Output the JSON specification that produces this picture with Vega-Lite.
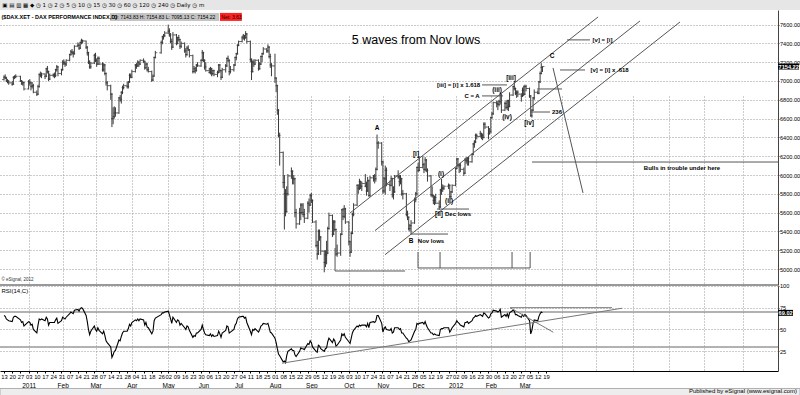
{
"$schema":"https://vega.github.io/schema/vega-lite/v6.json",
"width":778,"height":361,
"autosize":{"type":"none"},
"padding":{"top":10,"bottom":24,"left":0,"right":22},
"background":"white",
"config":{"view":{"stroke":null},"font":"Liberation Sans"},
"datasets":{
"bars":[
{"d":"2010-12-13","o":7015,"h":7060,"l":7005,"c":7040,"r":66},
{"d":"2010-12-14","o":7040,"h":7070,"l":7020,"c":7030,"r":65},
{"d":"2010-12-15","o":7030,"h":7045,"l":6990,"c":7000,"r":62},
{"d":"2010-12-16","o":7000,"h":7020,"l":6975,"c":6990,"r":61},
{"d":"2010-12-17","o":6990,"h":7010,"l":6960,"c":6980,"r":60},
{"d":"2010-12-20","o":6980,"h":7000,"l":6950,"c":6965,"r":59},
{"d":"2010-12-21","o":6965,"h":7050,"l":6960,"c":7040,"r":64},
{"d":"2010-12-22","o":7040,"h":7060,"l":7020,"c":7045,"r":65},
{"d":"2010-12-23","o":7045,"h":7070,"l":7030,"c":7050,"r":65},
{"d":"2010-12-27","o":7050,"h":7055,"l":6990,"c":7000,"r":61},
{"d":"2010-12-28","o":7000,"h":7010,"l":6960,"c":6970,"r":58},
{"d":"2010-12-29","o":6970,"h":7000,"l":6950,"c":6985,"r":59},
{"d":"2010-12-30","o":6985,"h":6990,"l":6900,"c":6915,"r":54},
{"d":"2011-01-03","o":6915,"h":7010,"l":6910,"c":6990,"r":59},
{"d":"2011-01-04","o":6990,"h":7020,"l":6950,"c":6980,"r":58},
{"d":"2011-01-05","o":6980,"h":6990,"l":6900,"c":6940,"r":55},
{"d":"2011-01-06","o":6940,"h":6990,"l":6920,"c":6950,"r":56},
{"d":"2011-01-07","o":6950,"h":6970,"l":6870,"c":6880,"r":50},
{"d":"2011-01-10","o":6880,"h":6900,"l":6840,"c":6860,"r":46},
{"d":"2011-01-11","o":6860,"h":6960,"l":6850,"c":6940,"r":55},
{"d":"2011-01-12","o":6940,"h":7080,"l":6930,"c":7070,"r":62},
{"d":"2011-01-13","o":7070,"h":7100,"l":7040,"c":7060,"r":61},
{"d":"2011-01-14","o":7060,"h":7090,"l":7030,"c":7075,"r":62},
{"d":"2011-01-17","o":7075,"h":7080,"l":7020,"c":7050,"r":60},
{"d":"2011-01-18","o":7050,"h":7140,"l":7040,"c":7130,"r":64},
{"d":"2011-01-19","o":7130,"h":7160,"l":7080,"c":7100,"r":62},
{"d":"2011-01-20","o":7100,"h":7110,"l":7000,"c":7020,"r":55},
{"d":"2011-01-21","o":7020,"h":7080,"l":7010,"c":7060,"r":58},
{"d":"2011-01-24","o":7060,"h":7080,"l":7040,"c":7065,"r":58},
{"d":"2011-01-25","o":7065,"h":7090,"l":7030,"c":7060,"r":58},
{"d":"2011-01-26","o":7060,"h":7130,"l":7040,"c":7120,"r":61},
{"d":"2011-01-27","o":7120,"h":7170,"l":7100,"c":7150,"r":63},
{"d":"2011-01-28","o":7150,"h":7160,"l":7050,"c":7080,"r":57},
{"d":"2011-01-31","o":7080,"h":7130,"l":7060,"c":7120,"r":60},
{"d":"2011-02-01","o":7120,"h":7220,"l":7110,"c":7200,"r":64},
{"d":"2011-02-02","o":7200,"h":7230,"l":7170,"c":7190,"r":63},
{"d":"2011-02-03","o":7190,"h":7210,"l":7150,"c":7180,"r":62},
{"d":"2011-02-04","o":7180,"h":7230,"l":7160,"c":7220,"r":64},
{"d":"2011-02-07","o":7220,"h":7290,"l":7210,"c":7280,"r":68},
{"d":"2011-02-08","o":7280,"h":7330,"l":7270,"c":7310,"r":70},
{"d":"2011-02-09","o":7310,"h":7340,"l":7280,"c":7300,"r":69},
{"d":"2011-02-10","o":7300,"h":7320,"l":7250,"c":7290,"r":68},
{"d":"2011-02-11","o":7290,"h":7380,"l":7280,"c":7370,"r":72},
{"d":"2011-02-14","o":7370,"h":7410,"l":7360,"c":7380,"r":73},
{"d":"2011-02-15","o":7380,"h":7400,"l":7330,"c":7350,"r":71},
{"d":"2011-02-16","o":7350,"h":7420,"l":7340,"c":7410,"r":74},
{"d":"2011-02-17","o":7410,"h":7450,"l":7390,"c":7430,"r":75},
{"d":"2011-02-18","o":7430,"h":7440,"l":7400,"c":7425,"r":74},
{"d":"2011-02-21","o":7425,"h":7430,"l":7340,"c":7360,"r":66},
{"d":"2011-02-22","o":7360,"h":7370,"l":7270,"c":7300,"r":59},
{"d":"2011-02-23","o":7300,"h":7310,"l":7180,"c":7200,"r":50},
{"d":"2011-02-24","o":7200,"h":7220,"l":7130,"c":7150,"r":44},
{"d":"2011-02-25","o":7150,"h":7200,"l":7130,"c":7190,"r":48},
{"d":"2011-02-28","o":7190,"h":7290,"l":7180,"c":7270,"r":54},
{"d":"2011-03-01","o":7270,"h":7300,"l":7200,"c":7220,"r":50},
{"d":"2011-03-02","o":7220,"h":7240,"l":7150,"c":7180,"r":48},
{"d":"2011-03-03","o":7180,"h":7260,"l":7170,"c":7240,"r":52},
{"d":"2011-03-04","o":7240,"h":7260,"l":7170,"c":7180,"r":49},
{"d":"2011-03-07","o":7180,"h":7200,"l":7100,"c":7120,"r":45},
{"d":"2011-03-08","o":7120,"h":7190,"l":7100,"c":7170,"r":48},
{"d":"2011-03-09","o":7170,"h":7180,"l":7060,"c":7080,"r":43},
{"d":"2011-03-10","o":7080,"h":7090,"l":6950,"c":6980,"r":37},
{"d":"2011-03-11","o":6980,"h":7000,"l":6900,"c":6950,"r":35},
{"d":"2011-03-14","o":6950,"h":6960,"l":6800,"c":6860,"r":30},
{"d":"2011-03-15","o":6860,"h":6870,"l":6510,"c":6600,"r":18},
{"d":"2011-03-16","o":6600,"h":6720,"l":6540,"c":6620,"r":21},
{"d":"2011-03-17","o":6620,"h":6730,"l":6600,"c":6660,"r":25},
{"d":"2011-03-18","o":6660,"h":6720,"l":6620,"c":6660,"r":26},
{"d":"2011-03-21","o":6660,"h":6830,"l":6650,"c":6820,"r":38},
{"d":"2011-03-22","o":6820,"h":6850,"l":6780,"c":6800,"r":37},
{"d":"2011-03-23","o":6800,"h":6890,"l":6760,"c":6880,"r":42},
{"d":"2011-03-24","o":6880,"h":6950,"l":6860,"c":6930,"r":46},
{"d":"2011-03-25","o":6930,"h":6970,"l":6910,"c":6950,"r":48},
{"d":"2011-03-28","o":6950,"h":6990,"l":6920,"c":6940,"r":48},
{"d":"2011-03-29","o":6940,"h":7000,"l":6920,"c":6990,"r":51},
{"d":"2011-03-30","o":6990,"h":7080,"l":6980,"c":7060,"r":56},
{"d":"2011-03-31","o":7060,"h":7080,"l":7030,"c":7040,"r":54},
{"d":"2011-04-01","o":7040,"h":7120,"l":7030,"c":7100,"r":58},
{"d":"2011-04-04","o":7100,"h":7180,"l":7090,"c":7170,"r":61},
{"d":"2011-04-05","o":7170,"h":7190,"l":7130,"c":7160,"r":60},
{"d":"2011-04-06","o":7160,"h":7220,"l":7150,"c":7200,"r":62},
{"d":"2011-04-07","o":7200,"h":7210,"l":7150,"c":7180,"r":60},
{"d":"2011-04-08","o":7180,"h":7230,"l":7170,"c":7220,"r":62},
{"d":"2011-04-11","o":7220,"h":7240,"l":7190,"c":7210,"r":61},
{"d":"2011-04-12","o":7210,"h":7215,"l":7120,"c":7140,"r":55},
{"d":"2011-04-13","o":7140,"h":7200,"l":7130,"c":7180,"r":58},
{"d":"2011-04-14","o":7180,"h":7190,"l":7100,"c":7120,"r":53},
{"d":"2011-04-15","o":7120,"h":7150,"l":7090,"c":7100,"r":52},
{"d":"2011-04-18","o":7100,"h":7110,"l":6990,"c":7010,"r":45},
{"d":"2011-04-19","o":7010,"h":7070,"l":7000,"c":7050,"r":48},
{"d":"2011-04-20","o":7050,"h":7260,"l":7050,"c":7250,"r":60},
{"d":"2011-04-21","o":7250,"h":7320,"l":7240,"c":7300,"r":63},
{"d":"2011-04-26","o":7300,"h":7430,"l":7290,"c":7410,"r":67},
{"d":"2011-04-27","o":7410,"h":7480,"l":7390,"c":7470,"r":69},
{"d":"2011-04-28","o":7470,"h":7500,"l":7440,"c":7480,"r":69},
{"d":"2011-04-29","o":7480,"h":7530,"l":7470,"c":7510,"r":70},
{"d":"2011-05-02","o":7510,"h":7600,"l":7500,"c":7530,"r":71},
{"d":"2011-05-03","o":7530,"h":7560,"l":7470,"c":7490,"r":67},
{"d":"2011-05-04","o":7490,"h":7510,"l":7400,"c":7420,"r":62},
{"d":"2011-05-05","o":7420,"h":7450,"l":7330,"c":7360,"r":57},
{"d":"2011-05-06","o":7360,"h":7520,"l":7350,"c":7490,"r":64},
{"d":"2011-05-09","o":7490,"h":7500,"l":7380,"c":7400,"r":58},
{"d":"2011-05-10","o":7400,"h":7470,"l":7390,"c":7460,"r":61},
{"d":"2011-05-11","o":7460,"h":7490,"l":7420,"c":7440,"r":60},
{"d":"2011-05-12","o":7440,"h":7450,"l":7340,"c":7370,"r":55},
{"d":"2011-05-13","o":7370,"h":7420,"l":7350,"c":7400,"r":57},
{"d":"2011-05-16","o":7400,"h":7410,"l":7300,"c":7320,"r":52},
{"d":"2011-05-17","o":7320,"h":7350,"l":7250,"c":7280,"r":50},
{"d":"2011-05-18","o":7280,"h":7370,"l":7270,"c":7350,"r":54},
{"d":"2011-05-19","o":7350,"h":7380,"l":7320,"c":7330,"r":53},
{"d":"2011-05-20","o":7330,"h":7340,"l":7250,"c":7270,"r":49},
{"d":"2011-05-23","o":7270,"h":7280,"l":7080,"c":7100,"r":41},
{"d":"2011-05-24","o":7100,"h":7160,"l":7090,"c":7130,"r":43},
{"d":"2011-05-25","o":7130,"h":7150,"l":7080,"c":7110,"r":42},
{"d":"2011-05-26","o":7110,"h":7180,"l":7100,"c":7170,"r":46},
{"d":"2011-05-27","o":7170,"h":7200,"l":7150,"c":7160,"r":46},
{"d":"2011-05-30","o":7160,"h":7230,"l":7150,"c":7220,"r":50},
{"d":"2011-05-31","o":7220,"h":7330,"l":7210,"c":7300,"r":55},
{"d":"2011-06-01","o":7300,"h":7310,"l":7200,"c":7220,"r":50},
{"d":"2011-06-02","o":7220,"h":7230,"l":7120,"c":7150,"r":46},
{"d":"2011-06-03","o":7150,"h":7200,"l":7100,"c":7110,"r":44},
{"d":"2011-06-06","o":7110,"h":7140,"l":7080,"c":7090,"r":43},
{"d":"2011-06-07","o":7090,"h":7150,"l":7070,"c":7130,"r":45},
{"d":"2011-06-08","o":7130,"h":7140,"l":7050,"c":7080,"r":42},
{"d":"2011-06-09","o":7080,"h":7120,"l":7060,"c":7110,"r":44},
{"d":"2011-06-10","o":7110,"h":7120,"l":7050,"c":7070,"r":42},
{"d":"2011-06-13","o":7070,"h":7110,"l":7040,"c":7090,"r":43},
{"d":"2011-06-14","o":7090,"h":7180,"l":7080,"c":7170,"r":48},
{"d":"2011-06-15","o":7170,"h":7180,"l":7090,"c":7110,"r":45},
{"d":"2011-06-16","o":7110,"h":7120,"l":7010,"c":7040,"r":41},
{"d":"2011-06-17","o":7040,"h":7140,"l":7030,"c":7120,"r":46},
{"d":"2011-06-20","o":7120,"h":7180,"l":7090,"c":7160,"r":49},
{"d":"2011-06-21","o":7160,"h":7250,"l":7150,"c":7240,"r":54},
{"d":"2011-06-22","o":7240,"h":7270,"l":7200,"c":7220,"r":53},
{"d":"2011-06-23","o":7220,"h":7230,"l":7060,"c":7100,"r":46},
{"d":"2011-06-24","o":7100,"h":7160,"l":7080,"c":7120,"r":47},
{"d":"2011-06-27","o":7120,"h":7180,"l":7100,"c":7170,"r":50},
{"d":"2011-06-28","o":7170,"h":7260,"l":7160,"c":7250,"r":55},
{"d":"2011-06-29","o":7250,"h":7300,"l":7220,"c":7290,"r":57},
{"d":"2011-06-30","o":7290,"h":7390,"l":7280,"c":7380,"r":62},
{"d":"2011-07-01","o":7380,"h":7430,"l":7370,"c":7420,"r":64},
{"d":"2011-07-04","o":7420,"h":7480,"l":7410,"c":7460,"r":65},
{"d":"2011-07-05","o":7460,"h":7500,"l":7440,"c":7480,"r":65},
{"d":"2011-07-06","o":7480,"h":7490,"l":7430,"c":7460,"r":63},
{"d":"2011-07-07","o":7460,"h":7530,"l":7450,"c":7500,"r":64},
{"d":"2011-07-08","o":7500,"h":7510,"l":7400,"c":7420,"r":58},
{"d":"2011-07-11","o":7420,"h":7430,"l":7200,"c":7230,"r":48},
{"d":"2011-07-12","o":7230,"h":7240,"l":7010,"c":7100,"r":44},
{"d":"2011-07-13","o":7100,"h":7220,"l":7090,"c":7200,"r":50},
{"d":"2011-07-14","o":7200,"h":7230,"l":7150,"c":7180,"r":49},
{"d":"2011-07-15","o":7180,"h":7230,"l":7170,"c":7220,"r":51},
{"d":"2011-07-18","o":7220,"h":7230,"l":7110,"c":7130,"r":47},
{"d":"2011-07-19","o":7130,"h":7200,"l":7120,"c":7180,"r":50},
{"d":"2011-07-20","o":7180,"h":7270,"l":7170,"c":7260,"r":54},
{"d":"2011-07-21","o":7260,"h":7300,"l":7200,"c":7290,"r":55},
{"d":"2011-07-22","o":7290,"h":7360,"l":7280,"c":7340,"r":57},
{"d":"2011-07-25","o":7340,"h":7350,"l":7300,"c":7320,"r":56},
{"d":"2011-07-26","o":7320,"h":7390,"l":7300,"c":7360,"r":57},
{"d":"2011-07-27","o":7360,"h":7370,"l":7240,"c":7260,"r":52},
{"d":"2011-07-28","o":7260,"h":7290,"l":7140,"c":7170,"r":47},
{"d":"2011-07-29","o":7170,"h":7190,"l":7050,"c":7160,"r":46},
{"d":"2011-08-01","o":7160,"h":7290,"l":6980,"c":7030,"r":40},
{"d":"2011-08-02","o":7030,"h":7040,"l":6880,"c":6950,"r":35},
{"d":"2011-08-03","o":6950,"h":6960,"l":6640,"c":6690,"r":28},
{"d":"2011-08-04","o":6690,"h":6700,"l":6400,"c":6420,"r":22},
{"d":"2011-08-05","o":6420,"h":6450,"l":6100,"c":6240,"r":20},
{"d":"2011-08-08","o":6240,"h":6250,"l":5860,"c":5920,"r":13},
{"d":"2011-08-09","o":5920,"h":6000,"l":5420,"c":5800,"r":14},
{"d":"2011-08-10","o":5800,"h":5850,"l":5560,"c":5610,"r":12},
{"d":"2011-08-11","o":5610,"h":5880,"l":5600,"c":5800,"r":20},
{"d":"2011-08-12","o":5800,"h":6010,"l":5780,"c":5990,"r":25},
{"d":"2011-08-15","o":5990,"h":6080,"l":5960,"c":6040,"r":28},
{"d":"2011-08-16","o":6040,"h":6050,"l":5900,"c":5960,"r":26},
{"d":"2011-08-17","o":5960,"h":6000,"l":5900,"c":5960,"r":26},
{"d":"2011-08-18","o":5960,"h":5970,"l":5550,"c":5600,"r":21},
{"d":"2011-08-19","o":5600,"h":5640,"l":5430,"c":5480,"r":19},
{"d":"2011-08-22","o":5480,"h":5650,"l":5470,"c":5600,"r":25},
{"d":"2011-08-23","o":5600,"h":5700,"l":5520,"c":5680,"r":29},
{"d":"2011-08-24","o":5680,"h":5700,"l":5580,"c":5600,"r":28},
{"d":"2011-08-25","o":5600,"h":5700,"l":5550,"c":5580,"r":28},
{"d":"2011-08-26","o":5580,"h":5640,"l":5490,"c":5540,"r":27},
{"d":"2011-08-29","o":5540,"h":5720,"l":5530,"c":5700,"r":34},
{"d":"2011-08-30","o":5700,"h":5750,"l":5600,"c":5680,"r":33},
{"d":"2011-08-31","o":5680,"h":5800,"l":5670,"c":5780,"r":37},
{"d":"2011-09-01","o":5780,"h":5810,"l":5700,"c":5730,"r":35},
{"d":"2011-09-02","o":5730,"h":5740,"l":5490,"c":5500,"r":30},
{"d":"2011-09-05","o":5500,"h":5520,"l":5230,"c":5250,"r":25},
{"d":"2011-09-06","o":5250,"h":5300,"l":5100,"c":5160,"r":24},
{"d":"2011-09-07","o":5160,"h":5420,"l":5150,"c":5400,"r":32},
{"d":"2011-09-08","o":5400,"h":5420,"l":5300,"c":5340,"r":31},
{"d":"2011-09-09","o":5340,"h":5350,"l":5150,"c":5190,"r":28},
{"d":"2011-09-12","o":5190,"h":5200,"l":4965,"c":5070,"r":25},
{"d":"2011-09-13","o":5070,"h":5200,"l":5020,"c":5150,"r":28},
{"d":"2011-09-14","o":5150,"h":5300,"l":5050,"c":5170,"r":29},
{"d":"2011-09-15","o":5170,"h":5450,"l":5160,"c":5430,"r":36},
{"d":"2011-09-16","o":5430,"h":5600,"l":5420,"c":5570,"r":40},
{"d":"2011-09-19","o":5570,"h":5580,"l":5340,"c":5370,"r":35},
{"d":"2011-09-20","o":5370,"h":5520,"l":5360,"c":5500,"r":39},
{"d":"2011-09-21","o":5500,"h":5520,"l":5400,"c":5420,"r":37},
{"d":"2011-09-22","o":5420,"h":5430,"l":5140,"c":5160,"r":31},
{"d":"2011-09-23","o":5160,"h":5260,"l":5130,"c":5170,"r":32},
{"d":"2011-09-26","o":5170,"h":5380,"l":5140,"c":5370,"r":38},
{"d":"2011-09-27","o":5370,"h":5640,"l":5360,"c":5630,"r":45},
{"d":"2011-09-28","o":5630,"h":5650,"l":5520,"c":5560,"r":43},
{"d":"2011-09-29","o":5560,"h":5680,"l":5540,"c":5640,"r":45},
{"d":"2011-09-30","o":5640,"h":5650,"l":5480,"c":5500,"r":41},
{"d":"2011-10-03","o":5500,"h":5510,"l":5250,"c":5290,"r":36},
{"d":"2011-10-04","o":5290,"h":5300,"l":5130,"c":5180,"r":34},
{"d":"2011-10-05","o":5180,"h":5400,"l":5170,"c":5380,"r":40},
{"d":"2011-10-06","o":5380,"h":5600,"l":5370,"c":5580,"r":46},
{"d":"2011-10-07","o":5580,"h":5700,"l":5560,"c":5680,"r":49},
{"d":"2011-10-10","o":5680,"h":5900,"l":5670,"c":5890,"r":54},
{"d":"2011-10-11","o":5890,"h":5900,"l":5800,"c":5860,"r":53},
{"d":"2011-10-12","o":5860,"h":5960,"l":5840,"c":5930,"r":55},
{"d":"2011-10-13","o":5930,"h":5940,"l":5850,"c":5880,"r":54},
{"d":"2011-10-14","o":5880,"h":5930,"l":5830,"c":5910,"r":55},
{"d":"2011-10-17","o":5910,"h":6010,"l":5870,"c":5880,"r":55},
{"d":"2011-10-18","o":5880,"h":5930,"l":5780,"c":5830,"r":53},
{"d":"2011-10-19","o":5830,"h":5980,"l":5820,"c":5940,"r":57},
{"d":"2011-10-20","o":5940,"h":5950,"l":5770,"c":5780,"r":52},
{"d":"2011-10-21","o":5780,"h":5990,"l":5770,"c":5970,"r":58},
{"d":"2011-10-24","o":5970,"h":6000,"l":5930,"c":5990,"r":59},
{"d":"2011-10-25","o":5990,"h":6010,"l":5910,"c":5960,"r":58},
{"d":"2011-10-26","o":5960,"h":6080,"l":5930,"c":6060,"r":60},
{"d":"2011-10-27","o":6060,"h":6430,"l":6050,"c":6340,"r":66},
{"d":"2011-10-28","o":6340,"h":6360,"l":6280,"c":6340,"r":66},
{"d":"2011-10-31","o":6340,"h":6350,"l":6100,"c":6140,"r":57},
{"d":"2011-11-01","o":6140,"h":6150,"l":5800,"c":5830,"r":47},
{"d":"2011-11-02","o":5830,"h":5980,"l":5810,"c":5960,"r":51},
{"d":"2011-11-03","o":5960,"h":6100,"l":5790,"c":6050,"r":53},
{"d":"2011-11-04","o":6050,"h":6080,"l":5880,"c":5900,"r":50},
{"d":"2011-11-07","o":5900,"h":5940,"l":5830,"c":5890,"r":49},
{"d":"2011-11-08","o":5890,"h":5990,"l":5880,"c":5960,"r":51},
{"d":"2011-11-09","o":5960,"h":5970,"l":5760,"c":5790,"r":46},
{"d":"2011-11-10","o":5790,"h":5880,"l":5740,"c":5820,"r":47},
{"d":"2011-11-11","o":5820,"h":6000,"l":5810,"c":5990,"r":52},
{"d":"2011-11-14","o":5990,"h":6050,"l":5960,"c":5980,"r":52},
{"d":"2011-11-15","o":5980,"h":6000,"l":5880,"c":5930,"r":50},
{"d":"2011-11-16","o":5930,"h":6000,"l":5900,"c":5960,"r":51},
{"d":"2011-11-17","o":5960,"h":5970,"l":5780,"c":5800,"r":46},
{"d":"2011-11-18","o":5800,"h":5840,"l":5740,"c":5800,"r":46},
{"d":"2011-11-21","o":5800,"h":5810,"l":5560,"c":5580,"r":40},
{"d":"2011-11-22","o":5580,"h":5620,"l":5520,"c":5550,"r":39},
{"d":"2011-11-23","o":5550,"h":5560,"l":5410,"c":5430,"r":36},
{"d":"2011-11-24","o":5430,"h":5480,"l":5400,"c":5460,"r":37},
{"d":"2011-11-25","o":5460,"h":5520,"l":5370,"c":5490,"r":38},
{"d":"2011-11-28","o":5490,"h":5760,"l":5480,"c":5740,"r":48},
{"d":"2011-11-29","o":5740,"h":5820,"l":5710,"c":5800,"r":50},
{"d":"2011-11-30","o":5800,"h":6090,"l":5780,"c":6080,"r":57},
{"d":"2011-12-01","o":6080,"h":6130,"l":6030,"c":6050,"r":56},
{"d":"2011-12-02","o":6050,"h":6200,"l":6040,"c":6080,"r":57},
{"d":"2011-12-05","o":6080,"h":6200,"l":6070,"c":6110,"r":58},
{"d":"2011-12-06","o":6110,"h":6130,"l":6020,"c":6060,"r":56},
{"d":"2011-12-07","o":6060,"h":6190,"l":6040,"c":6160,"r":59},
{"d":"2011-12-08","o":6160,"h":6170,"l":6030,"c":6050,"r":55},
{"d":"2011-12-09","o":6050,"h":6070,"l":5930,"c":5990,"r":52},
{"d":"2011-12-12","o":5990,"h":6000,"l":5770,"c":5790,"r":46},
{"d":"2011-12-13","o":5790,"h":5880,"l":5760,"c":5780,"r":46},
{"d":"2011-12-14","o":5780,"h":5790,"l":5690,"c":5730,"r":44},
{"d":"2011-12-15","o":5730,"h":5780,"l":5680,"c":5760,"r":45},
{"d":"2011-12-16","o":5760,"h":5800,"l":5690,"c":5700,"r":44},
{"d":"2011-12-19","o":5700,"h":5730,"l":5630,"c":5660,"r":43},
{"d":"2011-12-20","o":5660,"h":5850,"l":5650,"c":5840,"r":50},
{"d":"2011-12-21","o":5840,"h":5960,"l":5790,"c":5860,"r":51},
{"d":"2011-12-22","o":5860,"h":5900,"l":5820,"c":5860,"r":51},
{"d":"2011-12-23","o":5860,"h":5890,"l":5840,"c":5880,"r":52},
{"d":"2011-12-27","o":5880,"h":5910,"l":5850,"c":5890,"r":52},
{"d":"2011-12-28","o":5890,"h":5900,"l":5750,"c":5770,"r":47},
{"d":"2011-12-29","o":5770,"h":5830,"l":5740,"c":5820,"r":49},
{"d":"2011-12-30","o":5820,"h":5900,"l":5810,"c":5890,"r":52},
{"d":"2012-01-02","o":5890,"h":6080,"l":5880,"c":6070,"r":57},
{"d":"2012-01-03","o":6070,"h":6180,"l":6060,"c":6170,"r":60},
{"d":"2012-01-04","o":6170,"h":6180,"l":6080,"c":6110,"r":58},
{"d":"2012-01-05","o":6110,"h":6120,"l":6020,"c":6100,"r":57},
{"d":"2012-01-06","o":6100,"h":6130,"l":6030,"c":6060,"r":55},
{"d":"2012-01-09","o":6060,"h":6080,"l":5990,"c":6020,"r":53},
{"d":"2012-01-10","o":6020,"h":6180,"l":6010,"c":6160,"r":58},
{"d":"2012-01-11","o":6160,"h":6190,"l":6120,"c":6150,"r":58},
{"d":"2012-01-12","o":6150,"h":6190,"l":6100,"c":6180,"r":59},
{"d":"2012-01-13","o":6180,"h":6190,"l":6100,"c":6140,"r":57},
{"d":"2012-01-16","o":6140,"h":6230,"l":6130,"c":6220,"r":60},
{"d":"2012-01-17","o":6220,"h":6340,"l":6210,"c":6330,"r":63},
{"d":"2012-01-18","o":6330,"h":6370,"l":6290,"c":6350,"r":64},
{"d":"2012-01-19","o":6350,"h":6440,"l":6340,"c":6420,"r":66},
{"d":"2012-01-20","o":6420,"h":6440,"l":6380,"c":6410,"r":65},
{"d":"2012-01-23","o":6410,"h":6470,"l":6400,"c":6440,"r":67},
{"d":"2012-01-24","o":6440,"h":6450,"l":6380,"c":6420,"r":66},
{"d":"2012-01-25","o":6420,"h":6440,"l":6370,"c":6400,"r":65},
{"d":"2012-01-26","o":6400,"h":6560,"l":6390,"c":6540,"r":69},
{"d":"2012-01-27","o":6540,"h":6560,"l":6490,"c":6510,"r":68},
{"d":"2012-01-30","o":6510,"h":6520,"l":6380,"c":6440,"r":63},
{"d":"2012-01-31","o":6440,"h":6500,"l":6430,"c":6460,"r":64},
{"d":"2012-02-01","o":6460,"h":6620,"l":6450,"c":6610,"r":68},
{"d":"2012-02-02","o":6610,"h":6670,"l":6600,"c":6650,"r":69},
{"d":"2012-02-03","o":6650,"h":6780,"l":6640,"c":6770,"r":72},
{"d":"2012-02-06","o":6770,"h":6790,"l":6720,"c":6760,"r":71},
{"d":"2012-02-07","o":6760,"h":6790,"l":6690,"c":6750,"r":70},
{"d":"2012-02-08","o":6750,"h":6800,"l":6730,"c":6780,"r":71},
{"d":"2012-02-09","o":6780,"h":6880,"l":6750,"c":6850,"r":73},
{"d":"2012-02-10","o":6850,"h":6860,"l":6660,"c":6690,"r":64},
{"d":"2012-02-13","o":6690,"h":6780,"l":6680,"c":6760,"r":67},
{"d":"2012-02-14","o":6760,"h":6790,"l":6700,"c":6720,"r":65},
{"d":"2012-02-15","o":6720,"h":6800,"l":6690,"c":6790,"r":68},
{"d":"2012-02-16","o":6790,"h":6800,"l":6680,"c":6730,"r":64},
{"d":"2012-02-17","o":6730,"h":6880,"l":6720,"c":6850,"r":69},
{"d":"2012-02-20","o":6850,"h":6950,"l":6840,"c":6940,"r":72},
{"d":"2012-02-21","o":6940,"h":6990,"l":6900,"c":6920,"r":71},
{"d":"2012-02-22","o":6920,"h":6930,"l":6850,"c":6870,"r":67},
{"d":"2012-02-23","o":6870,"h":6900,"l":6820,"c":6880,"r":67},
{"d":"2012-02-24","o":6880,"h":6900,"l":6830,"c":6860,"r":66},
{"d":"2012-02-27","o":6860,"h":6870,"l":6780,"c":6840,"r":64},
{"d":"2012-02-28","o":6840,"h":6930,"l":6830,"c":6900,"r":67},
{"d":"2012-02-29","o":6900,"h":6950,"l":6840,"c":6860,"r":65},
{"d":"2012-03-01","o":6860,"h":6960,"l":6850,"c":6940,"r":67},
{"d":"2012-03-02","o":6940,"h":6960,"l":6890,"c":6920,"r":66},
{"d":"2012-03-05","o":6920,"h":6930,"l":6820,"c":6840,"r":60},
{"d":"2012-03-06","o":6840,"h":6850,"l":6620,"c":6630,"r":45},
{"d":"2012-03-07","o":6630,"h":6700,"l":6610,"c":6690,"r":49},
{"d":"2012-03-08","o":6690,"h":6830,"l":6680,"c":6820,"r":57},
{"d":"2012-03-09","o":6820,"h":6910,"l":6800,"c":6880,"r":61},
{"d":"2012-03-12","o":6880,"h":6900,"l":6860,"c":6870,"r":60},
{"d":"2012-03-13","o":6870,"h":7000,"l":6860,"c":6990,"r":65},
{"d":"2012-03-14","o":6990,"h":7100,"l":6980,"c":7080,"r":68},
{"d":"2012-03-15","o":7080,"h":7190,"l":7070,"c":7150.59,"r":70},
{"d":"2012-03-16","o":7143.83,"h":7154.83,"l":7095.13,"c":7154.22,"r":69.02}
],
"segs":[
{"d":"2011-10-04T00:00:00Z","d2":"2012-05-02T10:00:00Z","p":5596,"p2":7681},
{"d":"2011-10-25T07:00:00Z","d2":"2012-06-07T05:00:00Z","p":5409,"p2":7639},
{"d":"2011-11-02T19:00:00Z","d2":"2012-07-11T07:00:00Z","p":5152,"p2":7628},
{"d":"2012-03-25T00:00:00Z","d2":"2012-04-19T14:00:00Z","p":7139,"p2":5809},
{"d":"2012-04-06T00:00:00Z","d2":"2012-04-25T14:00:00Z","p":7437,"p2":7437},
{"d":"2012-03-31T00:00:00Z","d2":"2012-04-21T07:00:00Z","p":7117,"p2":7117},
{"d":"2012-03-11T10:00:00Z","d2":"2012-04-01T17:00:00Z","p":6915,"p2":6915},
{"d":"2012-03-05T12:00:00Z","d2":"2012-03-22T12:00:00Z","p":6670,"p2":6670},
{"d":"2012-01-24T12:00:00Z","d2":"2012-02-14T19:00:00Z","p":6958,"p2":6958},
{"d":"2012-01-24T12:00:00Z","d2":"2012-02-11T10:00:00Z","p":6841,"p2":6841},
{"d":"2012-03-07T02:00:00Z","d2":"2012-10-02T19:00:00Z","p":6138,"p2":6138},
{"d":"2011-12-17T02:00:00Z","d2":"2012-01-13T10:00:00Z","p":5638,"p2":5638},
{"d":"2011-11-25T00:00:00Z","d2":"2011-12-26T12:00:00Z","p":5372,"p2":5372},
{"d":"2011-09-21T05:00:00Z","d2":"2011-09-21T05:00:00Z","p":5223,"p2":4979},
{"d":"2011-09-21T05:00:00Z","d2":"2011-11-19T22:00:00Z","p":4979,"p2":4979},
{"d":"2011-11-30T22:00:00Z","d2":"2012-03-05T12:00:00Z","p":5011,"p2":5011},
{"d":"2011-11-30T22:00:00Z","d2":"2011-11-30T22:00:00Z","p":5181,"p2":5011},
{"d":"2011-12-19T17:00:00Z","d2":"2011-12-19T17:00:00Z","p":5181,"p2":5011},
{"d":"2012-02-19T02:00:00Z","d2":"2012-02-19T02:00:00Z","p":5181,"p2":5011},
{"d":"2012-03-05T12:00:00Z","d2":"2012-03-05T12:00:00Z","p":5181,"p2":5011}
],
"rsiSegs":[
{"d":"2011-08-07T00:00:00Z","d2":"2012-05-22T22:00:00Z","r":11.4,"r2":74.3},
{"d":"2012-02-17T10:00:00Z","d2":"2012-05-14T07:00:00Z","r":74.9,"r2":74.9},
{"d":"2012-02-17T10:00:00Z","d2":"2012-03-25T07:00:00Z","r":74.9,"r2":46.8}
],
"waveLbl":[
{"d":"2011-10-27T00:00:00Z","p":6500,"t":"A"},
{"d":"2011-11-29T05:00:00Z","p":6224,"t":"[i]"},
{"d":"2011-11-25T00:00:00Z","p":5298,"t":"B"},
{"d":"2011-12-18T19:00:00Z","p":5585,"t":"[ii]"},
{"d":"2011-12-20T12:00:00Z","p":6011,"t":"(i)"},
{"d":"2011-12-27T10:00:00Z","p":5724,"t":"(ii)"},
{"d":"2012-02-06T07:00:00Z","p":6905,"t":"(iii)"},
{"d":"2012-02-14T19:00:00Z","p":6617,"t":"(iv)"},
{"d":"2012-02-18T05:00:00Z","p":7032,"t":"[iii]"},
{"d":"2012-03-04T14:00:00Z","p":6553,"t":"[iv]"},
{"d":"2012-03-24T05:00:00Z","p":7266,"t":"C"}
],
"noteLbl":[
{"d":"2012-05-06T05:00:00Z","p":7437,"t":"[v] = [i]"},
{"d":"2012-05-12T05:00:00Z","p":7117,"t":"[v] = [i] x .618"},
{"d":"2012-03-28T10:00:00Z","p":6670,"t":"236"},
{"d":"2012-01-04T12:00:00Z","p":6958,"t":"[iii] = [i] x 1.618"},
{"d":"2012-01-16T00:00:00Z","p":6841,"t":"C = A"},
{"d":"2012-07-13T00:00:00Z","p":6075,"t":"Bulls in trouble under here"},
{"d":"2012-01-04T00:00:00Z","p":5585,"t":"Dec lows"},
{"d":"2011-12-12T00:00:00Z","p":5298,"t":"Nov lows"}
],
"headline":[{"d":"2011-11-29T05:00:00Z","p":7437,"t":"5 waves from Nov lows"}],
"leftTxt":[{"d":"2010-12-10T21:00:00Z","p":7681,"t":"($DAX.XET - DAX PERFORMANCE INDEX,D)"}],
"toolbar":[{"d":"2010-12-11T12:00:00Z","p":7808,"t":"▣ ▤ ▥ ▦ ◆  ◷ 1  ◷ 2  ◷ 5  ◷ 10  ◷ 15  ◷ 30  ◷ 60  ◷ 120  ◷ 240  ◷ Daily  ◷ m"}],
"copy":[{"d":"2010-12-10T21:00:00Z","p":4883,"t":"© eSignal, 2012"}],
"hdrBox":[{"d":"2011-03-13T10:00:00Z","d2":"2011-06-14T07:00:00Z","p":7639,"p2":7724}],
"netBox":[{"d":"2011-06-15T02:00:00Z","d2":"2011-07-03T19:00:00Z","p":7639,"p2":7724}],
"hdrVals":[{"d":"2011-04-28T19:00:00Z","p":7681,"t":"O: 7143.83   H: 7154.83   L: 7095.13   C: 7154.22"}],
"netVal":[{"d":"2011-06-24T22:00:00Z","p":7681,"t":"Net: 3.63"}],
"strip":[{"d":"2010-12-09T14:10:00Z","d2":"2012-10-21T14:00:00Z","p":7755,"p2":7870}],
"lastBox":[{"d":"2012-10-02T19:12:00Z","d2":"2012-10-20T17:00:00Z","p":7122,"p2":7186}],
"lastVal":[{"d":"2012-10-11T22:00:00Z","p":7154,"t":"7154.22"}],
"rsiTitle":[{"d":"2010-12-10T21:00:00Z","r":94,"t":"RSI(14,C)"}],
"rsiBox":[{"d":"2012-10-02T19:12:00Z","d2":"2012-10-15T14:00:00Z","r":65.6,"r2":72.4}],
"rsiVal":[{"d":"2012-10-09T07:00:00Z","r":69.02,"t":"69.02"}],
"status":[{"d":"2010-12-09T14:10:00Z","d2":"2012-10-21T14:00:00Z","r":-17.5,"r2":-27}],
"statusTxt":[{"d":"2012-10-19T00:00:00Z","r":-20.4,"t":"Published by eSignal (www.esignal.com)"}]
},
"layer":[
{"data":{"name":"strip"},"mark":{"type":"rect","color":"#e6e6e6"},
 "encoding":{"x":{"field":"d","type":"temporal","scale":{"type":"utc","domain":[{"year":2010,"month":12,"date":9,"hours":14,"minutes":10,"utc":true},{"year":2012,"month":10,"date":2,"hours":19,"minutes":12,"utc":true}]},"axis":null},"x2":{"field":"d2"},
  "y":{"field":"p","type":"quantitative","scale":{"domain":[4830,7755],"range":[275,0],"zero":false,"nice":false},"axis":null},"y2":{"field":"p2"}}},
{"data":{"name":"bars"},"mark":{"type":"rule","color":"#3a3a3a","strokeWidth":1},
 "encoding":{"x":{"field":"d","type":"temporal","scale":{"type":"utc","domain":[{"year":2010,"month":12,"date":9,"hours":14,"minutes":10,"utc":true},{"year":2012,"month":10,"date":2,"hours":19,"minutes":12,"utc":true}]},
   "axis":{"orient":"bottom","values":[{"year":2011,"month":1,"date":3,"utc":true},{"year":2011,"month":2,"date":1,"utc":true},{"year":2011,"month":3,"date":1,"utc":true},{"year":2011,"month":4,"date":1,"utc":true},{"year":2011,"month":5,"date":2,"utc":true},{"year":2011,"month":6,"date":1,"utc":true},{"year":2011,"month":7,"date":1,"utc":true},{"year":2011,"month":8,"date":1,"utc":true},{"year":2011,"month":9,"date":1,"utc":true},{"year":2011,"month":10,"date":3,"utc":true},{"year":2011,"month":11,"date":1,"utc":true},{"year":2011,"month":12,"date":1,"utc":true},{"year":2012,"month":1,"date":2,"utc":true},{"year":2012,"month":2,"date":1,"utc":true},{"year":2012,"month":3,"date":1,"utc":true},{"year":2012,"month":4,"date":2,"utc":true},{"year":2012,"month":5,"date":1,"utc":true},{"year":2012,"month":6,"date":1,"utc":true},{"year":2012,"month":7,"date":2,"utc":true},{"year":2012,"month":8,"date":1,"utc":true},{"year":2012,"month":9,"date":3,"utc":true}],
     "labelExpr":"datum.value > 1333000000000 ? '' : (utcFormat(datum.value, '%m') == '01' ? utcFormat(datum.value, '%Y') : utcFormat(datum.value, '%b'))",
     "grid":true,"gridColor":"#999999","gridDash":[1,2],"ticks":false,"domain":false,"labelPadding":11,"labelFontSize":6.5,"labelColor":"#000","labelFont":"Liberation Sans","title":null,"labelOverlap":false,"labelFlush":false,"labelBound":false}},
  "y":{"field":"l","type":"quantitative","scale":{"domain":[4830,7755],"range":[275,0],"zero":false,"nice":false},
   "axis":{"orient":"right","values":[5000,5200,5400,5600,5800,6000,6200,6400,6600,6800,7000,7200,7400,7600],"format":".2f","title":null,"grid":true,"gridColor":"#999999","gridDash":[1,2],"domainColor":"#444","tickSize":1,"tickColor":"#444","labelFontSize":5.6,"labelFont":"Liberation Sans","labelColor":"#000","labelPadding":0.5,"labelBound":false,"labelOverlap":false}},
  "y2":{"field":"h"}}},
{"data":{"name":"bars"},"mark":{"type":"tick","orient":"horizontal","size":2,"thickness":1,"xOffset":-1,"color":"#3a3a3a"},
 "encoding":{"x":{"field":"d","type":"temporal","scale":{"type":"utc","domain":[{"year":2010,"month":12,"date":9,"hours":14,"minutes":10,"utc":true},{"year":2012,"month":10,"date":2,"hours":19,"minutes":12,"utc":true}]},"axis":null},"y":{"field":"o","type":"quantitative","scale":{"domain":[4830,7755],"range":[275,0],"zero":false,"nice":false},"axis":null}}},
{"data":{"name":"bars"},"mark":{"type":"tick","orient":"horizontal","size":2,"thickness":1,"xOffset":1,"color":"#3a3a3a"},
 "encoding":{"x":{"field":"d","type":"temporal","scale":{"type":"utc","domain":[{"year":2010,"month":12,"date":9,"hours":14,"minutes":10,"utc":true},{"year":2012,"month":10,"date":2,"hours":19,"minutes":12,"utc":true}]},"axis":null},"y":{"field":"c","type":"quantitative","scale":{"domain":[4830,7755],"range":[275,0],"zero":false,"nice":false},"axis":null}}},
{"data":{"name":"segs"},"mark":{"type":"rule","color":"#555","strokeWidth":1},
 "encoding":{"x":{"field":"d","type":"temporal","scale":{"type":"utc","domain":[{"year":2010,"month":12,"date":9,"hours":14,"minutes":10,"utc":true},{"year":2012,"month":10,"date":2,"hours":19,"minutes":12,"utc":true}]},"axis":null},"x2":{"field":"d2"},"y":{"field":"p","type":"quantitative","scale":{"domain":[4830,7755],"range":[275,0],"zero":false,"nice":false},"axis":null},"y2":{"field":"p2"}}},
{"data":{"values":[{"p":4830}]},"mark":{"type":"rule","color":"#777","strokeWidth":1.5},
 "encoding":{"y":{"field":"p","type":"quantitative","scale":{"domain":[4830,7755],"range":[275,0],"zero":false,"nice":false},"axis":null}}},
{"data":{"name":"waveLbl"},"mark":{"type":"text","fontSize":6.5,"fontWeight":"bold","color":"#000","font":"Liberation Sans"},
 "encoding":{"x":{"field":"d","type":"temporal","scale":{"type":"utc","domain":[{"year":2010,"month":12,"date":9,"hours":14,"minutes":10,"utc":true},{"year":2012,"month":10,"date":2,"hours":19,"minutes":12,"utc":true}]},"axis":null},"y":{"field":"p","type":"quantitative","scale":{"domain":[4830,7755],"range":[275,0],"zero":false,"nice":false},"axis":null},"text":{"field":"t"}}},
{"data":{"name":"noteLbl"},"mark":{"type":"text","fontSize":6,"fontWeight":"bold","color":"#000","font":"Liberation Sans"},
 "encoding":{"x":{"field":"d","type":"temporal","scale":{"type":"utc","domain":[{"year":2010,"month":12,"date":9,"hours":14,"minutes":10,"utc":true},{"year":2012,"month":10,"date":2,"hours":19,"minutes":12,"utc":true}]},"axis":null},"y":{"field":"p","type":"quantitative","scale":{"domain":[4830,7755],"range":[275,0],"zero":false,"nice":false},"axis":null},"text":{"field":"t"}}},
{"data":{"name":"headline"},"mark":{"type":"text","fontSize":12.5,"color":"#000","font":"Liberation Sans"},
 "encoding":{"x":{"field":"d","type":"temporal","scale":{"type":"utc","domain":[{"year":2010,"month":12,"date":9,"hours":14,"minutes":10,"utc":true},{"year":2012,"month":10,"date":2,"hours":19,"minutes":12,"utc":true}]},"axis":null},"y":{"field":"p","type":"quantitative","scale":{"domain":[4830,7755],"range":[275,0],"zero":false,"nice":false},"axis":null},"text":{"field":"t"}}},
{"data":{"name":"hdrBox"},"mark":{"type":"rect","color":"#c4c4c4"},
 "encoding":{"x":{"field":"d","type":"temporal","scale":{"type":"utc","domain":[{"year":2010,"month":12,"date":9,"hours":14,"minutes":10,"utc":true},{"year":2012,"month":10,"date":2,"hours":19,"minutes":12,"utc":true}]},"axis":null},"x2":{"field":"d2"},"y":{"field":"p","type":"quantitative","scale":{"domain":[4830,7755],"range":[275,0],"zero":false,"nice":false},"axis":null},"y2":{"field":"p2"}}},
{"data":{"name":"netBox"},"mark":{"type":"rect","color":"#ff2020"},
 "encoding":{"x":{"field":"d","type":"temporal","scale":{"type":"utc","domain":[{"year":2010,"month":12,"date":9,"hours":14,"minutes":10,"utc":true},{"year":2012,"month":10,"date":2,"hours":19,"minutes":12,"utc":true}]},"axis":null},"x2":{"field":"d2"},"y":{"field":"p","type":"quantitative","scale":{"domain":[4830,7755],"range":[275,0],"zero":false,"nice":false},"axis":null},"y2":{"field":"p2"}}},
{"data":{"name":"leftTxt"},"mark":{"type":"text","fontSize":5.5,"fontWeight":"bold","align":"left","color":"#000","font":"Liberation Sans"},
 "encoding":{"x":{"field":"d","type":"temporal","scale":{"type":"utc","domain":[{"year":2010,"month":12,"date":9,"hours":14,"minutes":10,"utc":true},{"year":2012,"month":10,"date":2,"hours":19,"minutes":12,"utc":true}]},"axis":null},"y":{"field":"p","type":"quantitative","scale":{"domain":[4830,7755],"range":[275,0],"zero":false,"nice":false},"axis":null},"text":{"field":"t"}}},
{"data":{"name":"toolbar"},"mark":{"type":"text","fontSize":5.5,"align":"left","color":"#000","font":"DejaVu Sans"},
 "encoding":{"x":{"field":"d","type":"temporal","scale":{"type":"utc","domain":[{"year":2010,"month":12,"date":9,"hours":14,"minutes":10,"utc":true},{"year":2012,"month":10,"date":2,"hours":19,"minutes":12,"utc":true}]},"axis":null},"y":{"field":"p","type":"quantitative","scale":{"domain":[4830,7755],"range":[275,0],"zero":false,"nice":false},"axis":null},"text":{"field":"t"}}},
{"data":{"name":"copy"},"mark":{"type":"text","fontSize":4.5,"align":"left","color":"#333","font":"Liberation Sans"},
 "encoding":{"x":{"field":"d","type":"temporal","scale":{"type":"utc","domain":[{"year":2010,"month":12,"date":9,"hours":14,"minutes":10,"utc":true},{"year":2012,"month":10,"date":2,"hours":19,"minutes":12,"utc":true}]},"axis":null},"y":{"field":"p","type":"quantitative","scale":{"domain":[4830,7755],"range":[275,0],"zero":false,"nice":false},"axis":null},"text":{"field":"t"}}},
{"data":{"name":"hdrVals"},"mark":{"type":"text","fontSize":5,"color":"#000","font":"Liberation Sans"},
 "encoding":{"x":{"field":"d","type":"temporal","scale":{"type":"utc","domain":[{"year":2010,"month":12,"date":9,"hours":14,"minutes":10,"utc":true},{"year":2012,"month":10,"date":2,"hours":19,"minutes":12,"utc":true}]},"axis":null},"y":{"field":"p","type":"quantitative","scale":{"domain":[4830,7755],"range":[275,0],"zero":false,"nice":false},"axis":null},"text":{"field":"t"}}},
{"data":{"name":"netVal"},"mark":{"type":"text","fontSize":5,"color":"#000","font":"Liberation Sans"},
 "encoding":{"x":{"field":"d","type":"temporal","scale":{"type":"utc","domain":[{"year":2010,"month":12,"date":9,"hours":14,"minutes":10,"utc":true},{"year":2012,"month":10,"date":2,"hours":19,"minutes":12,"utc":true}]},"axis":null},"y":{"field":"p","type":"quantitative","scale":{"domain":[4830,7755],"range":[275,0],"zero":false,"nice":false},"axis":null},"text":{"field":"t"}}},
{"data":{"name":"lastBox"},"mark":{"type":"rect","color":"#000"},
 "encoding":{"x":{"field":"d","type":"temporal","scale":{"type":"utc","domain":[{"year":2010,"month":12,"date":9,"hours":14,"minutes":10,"utc":true},{"year":2012,"month":10,"date":2,"hours":19,"minutes":12,"utc":true}]},"axis":null},"x2":{"field":"d2"},"y":{"field":"p","type":"quantitative","scale":{"domain":[4830,7755],"range":[275,0],"zero":false,"nice":false},"axis":null},"y2":{"field":"p2"}}},
{"data":{"name":"lastVal"},"mark":{"type":"text","fontSize":5.6,"fontWeight":"bold","color":"#fff","font":"Liberation Sans"},
 "encoding":{"x":{"field":"d","type":"temporal","scale":{"type":"utc","domain":[{"year":2010,"month":12,"date":9,"hours":14,"minutes":10,"utc":true},{"year":2012,"month":10,"date":2,"hours":19,"minutes":12,"utc":true}]},"axis":null},"y":{"field":"p","type":"quantitative","scale":{"domain":[4830,7755],"range":[275,0],"zero":false,"nice":false},"axis":null},"text":{"field":"t"}}},
{"data":{"name":"status"},"mark":{"type":"rect","color":"#ededed","stroke":"#b0b0b0","strokeWidth":1},
 "encoding":{"x":{"field":"d","type":"temporal","scale":{"type":"utc","domain":[{"year":2010,"month":12,"date":9,"hours":14,"minutes":10,"utc":true},{"year":2012,"month":10,"date":2,"hours":19,"minutes":12,"utc":true}]},"axis":null},"x2":{"field":"d2"},
  "y":{"field":"r","type":"quantitative","scale":{"domain":[2.5,100],"range":[361,275.75],"zero":false,"nice":false},"axis":null},"y2":{"field":"r2"}}},
{"data":{"values":[{"r":70},{"r":30}]},"mark":{"type":"rule","color":"#999","strokeWidth":1.5},
 "encoding":{"y":{"field":"r","type":"quantitative","scale":{"domain":[2.5,100],"range":[361,275.75],"zero":false,"nice":false},"axis":null}}},
{"data":{"name":"bars"},"mark":{"type":"line","color":"#000","strokeWidth":1.1},
 "encoding":{"x":{"field":"d","type":"temporal","scale":{"type":"utc","domain":[{"year":2010,"month":12,"date":9,"hours":14,"minutes":10,"utc":true},{"year":2012,"month":10,"date":2,"hours":19,"minutes":12,"utc":true}]},
   "axis":{"orient":"bottom","values":[{"year":2010,"month":12,"date":13,"utc":true},{"year":2010,"month":12,"date":20,"utc":true},{"year":2010,"month":12,"date":27,"utc":true},{"year":2011,"month":1,"date":3,"utc":true},{"year":2011,"month":1,"date":10,"utc":true},{"year":2011,"month":1,"date":17,"utc":true},{"year":2011,"month":1,"date":24,"utc":true},{"year":2011,"month":1,"date":31,"utc":true},{"year":2011,"month":2,"date":7,"utc":true},{"year":2011,"month":2,"date":14,"utc":true},{"year":2011,"month":2,"date":21,"utc":true},{"year":2011,"month":2,"date":28,"utc":true},{"year":2011,"month":3,"date":7,"utc":true},{"year":2011,"month":3,"date":14,"utc":true},{"year":2011,"month":3,"date":21,"utc":true},{"year":2011,"month":3,"date":28,"utc":true},{"year":2011,"month":4,"date":4,"utc":true},{"year":2011,"month":4,"date":11,"utc":true},{"year":2011,"month":4,"date":18,"utc":true},{"year":2011,"month":4,"date":26,"utc":true},{"year":2011,"month":5,"date":2,"utc":true},{"year":2011,"month":5,"date":9,"utc":true},{"year":2011,"month":5,"date":16,"utc":true},{"year":2011,"month":5,"date":23,"utc":true},{"year":2011,"month":5,"date":30,"utc":true},{"year":2011,"month":6,"date":6,"utc":true},{"year":2011,"month":6,"date":13,"utc":true},{"year":2011,"month":6,"date":20,"utc":true},{"year":2011,"month":6,"date":27,"utc":true},{"year":2011,"month":7,"date":4,"utc":true},{"year":2011,"month":7,"date":11,"utc":true},{"year":2011,"month":7,"date":18,"utc":true},{"year":2011,"month":7,"date":25,"utc":true},{"year":2011,"month":8,"date":1,"utc":true},{"year":2011,"month":8,"date":8,"utc":true},{"year":2011,"month":8,"date":15,"utc":true},{"year":2011,"month":8,"date":22,"utc":true},{"year":2011,"month":8,"date":29,"utc":true},{"year":2011,"month":9,"date":5,"utc":true},{"year":2011,"month":9,"date":12,"utc":true},{"year":2011,"month":9,"date":19,"utc":true},{"year":2011,"month":9,"date":26,"utc":true},{"year":2011,"month":10,"date":3,"utc":true},{"year":2011,"month":10,"date":10,"utc":true},{"year":2011,"month":10,"date":17,"utc":true},{"year":2011,"month":10,"date":24,"utc":true},{"year":2011,"month":10,"date":31,"utc":true},{"year":2011,"month":11,"date":7,"utc":true},{"year":2011,"month":11,"date":14,"utc":true},{"year":2011,"month":11,"date":21,"utc":true},{"year":2011,"month":11,"date":28,"utc":true},{"year":2011,"month":12,"date":5,"utc":true},{"year":2011,"month":12,"date":12,"utc":true},{"year":2011,"month":12,"date":19,"utc":true},{"year":2011,"month":12,"date":27,"utc":true},{"year":2012,"month":1,"date":2,"utc":true},{"year":2012,"month":1,"date":9,"utc":true},{"year":2012,"month":1,"date":16,"utc":true},{"year":2012,"month":1,"date":23,"utc":true},{"year":2012,"month":1,"date":30,"utc":true},{"year":2012,"month":2,"date":6,"utc":true},{"year":2012,"month":2,"date":13,"utc":true},{"year":2012,"month":2,"date":20,"utc":true},{"year":2012,"month":2,"date":27,"utc":true},{"year":2012,"month":3,"date":5,"utc":true},{"year":2012,"month":3,"date":12,"utc":true},{"year":2012,"month":3,"date":19,"utc":true}],
     "labelExpr":"utcFormat(datum.value, '%d')","grid":false,"ticks":true,"tickSize":2,"tickColor":"#000","domain":true,"domainColor":"#000","labelPadding":0,"labelFontSize":5.8,"labelColor":"#000","labelFont":"Liberation Sans","title":null,"labelOverlap":false,"labelFlush":false,"labelBound":false}},
  "y":{"field":"r","type":"quantitative","scale":{"domain":[2.5,100],"range":[361,275.75],"zero":false,"nice":false},
   "axis":{"orient":"right","values":[25,50,75,100],"title":null,"grid":true,"gridColor":"#999999","gridDash":[1,2],"domainColor":"#444","tickSize":1,"tickColor":"#444","labelFontSize":5.6,"labelFont":"Liberation Sans","labelColor":"#000","labelPadding":0.5,"labelBound":false,"labelOverlap":false}}}},
{"data":{"name":"rsiSegs"},"mark":{"type":"rule","color":"#777","strokeWidth":1},
 "encoding":{"x":{"field":"d","type":"temporal","scale":{"type":"utc","domain":[{"year":2010,"month":12,"date":9,"hours":14,"minutes":10,"utc":true},{"year":2012,"month":10,"date":2,"hours":19,"minutes":12,"utc":true}]},"axis":null},"x2":{"field":"d2"},"y":{"field":"r","type":"quantitative","scale":{"domain":[2.5,100],"range":[361,275.75],"zero":false,"nice":false},"axis":null},"y2":{"field":"r2"}}},
{"data":{"name":"rsiTitle"},"mark":{"type":"text","fontSize":6,"align":"left","color":"#000","font":"Liberation Sans"},
 "encoding":{"x":{"field":"d","type":"temporal","scale":{"type":"utc","domain":[{"year":2010,"month":12,"date":9,"hours":14,"minutes":10,"utc":true},{"year":2012,"month":10,"date":2,"hours":19,"minutes":12,"utc":true}]},"axis":null},"y":{"field":"r","type":"quantitative","scale":{"domain":[2.5,100],"range":[361,275.75],"zero":false,"nice":false},"axis":null},"text":{"field":"t"}}},
{"data":{"name":"rsiBox"},"mark":{"type":"rect","color":"#000"},
 "encoding":{"x":{"field":"d","type":"temporal","scale":{"type":"utc","domain":[{"year":2010,"month":12,"date":9,"hours":14,"minutes":10,"utc":true},{"year":2012,"month":10,"date":2,"hours":19,"minutes":12,"utc":true}]},"axis":null},"x2":{"field":"d2"},"y":{"field":"r","type":"quantitative","scale":{"domain":[2.5,100],"range":[361,275.75],"zero":false,"nice":false},"axis":null},"y2":{"field":"r2"}}},
{"data":{"name":"rsiVal"},"mark":{"type":"text","fontSize":5.6,"fontWeight":"bold","color":"#fff","font":"Liberation Sans"},
 "encoding":{"x":{"field":"d","type":"temporal","scale":{"type":"utc","domain":[{"year":2010,"month":12,"date":9,"hours":14,"minutes":10,"utc":true},{"year":2012,"month":10,"date":2,"hours":19,"minutes":12,"utc":true}]},"axis":null},"y":{"field":"r","type":"quantitative","scale":{"domain":[2.5,100],"range":[361,275.75],"zero":false,"nice":false},"axis":null},"text":{"field":"t"}}},
{"data":{"name":"statusTxt"},"mark":{"type":"text","fontSize":6,"align":"right","color":"#000","font":"Liberation Sans"},
 "encoding":{"x":{"field":"d","type":"temporal","scale":{"type":"utc","domain":[{"year":2010,"month":12,"date":9,"hours":14,"minutes":10,"utc":true},{"year":2012,"month":10,"date":2,"hours":19,"minutes":12,"utc":true}]},"axis":null},"y":{"field":"r","type":"quantitative","scale":{"domain":[2.5,100],"range":[361,275.75],"zero":false,"nice":false},"axis":null},"text":{"field":"t"}}}
],
"resolve":{"scale":{"y":"independent"},"axis":{"y":"independent","x":"independent"}}
}
